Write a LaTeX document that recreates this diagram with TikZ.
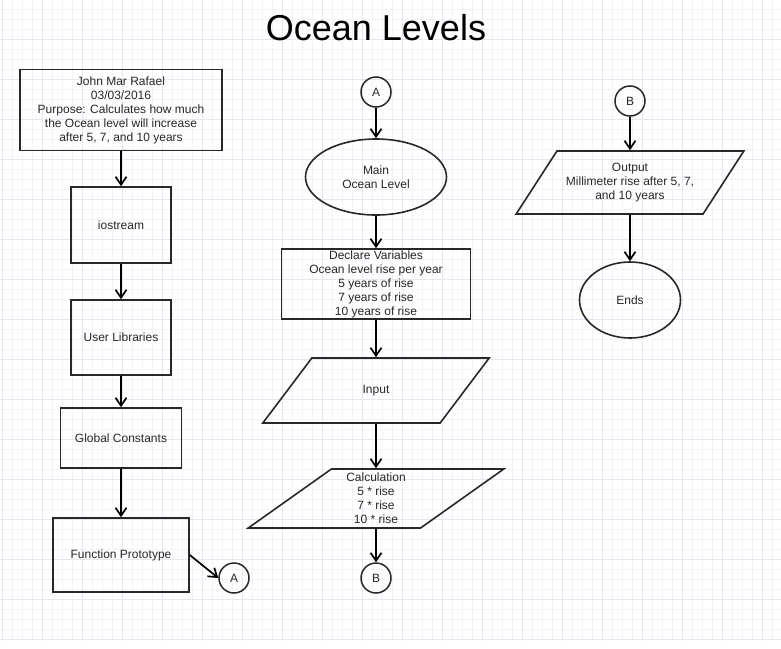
\documentclass[tikz,border=0pt]{standalone}
\usepackage{fontspec}
\setsansfont{Liberation Sans}
\usepackage{tikz}
\usetikzlibrary{arrows,arrows.meta,shapes}
\usetikzlibrary{calc}

\definecolor{gridlo}{RGB}{242,242,248}
\definecolor{gridhi}{RGB}{230,230,240}
\definecolor{ink}{RGB}{40,40,40}

\begin{document}
\begin{tikzpicture}[x=1pt,y=-1pt,font=\sffamily,
  every node/.style={align=center,font=\sffamily\fontsize{12}{14}\selectfont,text=ink},
  process/.style={draw=ink,line width=1.6pt,rectangle,inner sep=1pt},
  terminal/.style={draw=ink,line width=1.6pt,ellipse,inner sep=0pt},
  io/.style={draw=ink,line width=1.6pt,trapezium,trapezium stretches=true,inner sep=1pt},
  connector/.style={draw=ink,line width=1.5pt,circle,minimum size=30pt,inner sep=0pt},
  flow/.style={->,>={Straight Barb[length=8pt,width=11pt]},line width=1.7pt,draw=black},
  minorgrid/.style={draw=gridlo,line width=0.75pt},
  majorgrid/.style={draw=gridhi,line width=0.75pt}]

    % paper and grid
    \useasboundingbox (0,0) rectangle (781,648);
    \fill[white] (0,0) rectangle (781,648);
    \foreach \x in {2,12,...,772} \draw[minorgrid] (\x,0) -- (\x,641);
    \foreach \y in {9,19,...,639} \draw[minorgrid] (0,\y) -- (781,\y);
    \foreach \x in {2,42,...,762} \draw[majorgrid] (\x,0) -- (\x,641);
    \foreach \y in {39,79,...,639} \draw[majorgrid] (0,\y) -- (781,\y);

    \node[font=\sffamily\fontsize{36}{40}\selectfont,text=black](title) at (376,28){Ocean Levels};

    % left column
    \node[process,minimum width=202,minimum height=81](hdr) at (121,110)
        {John Mar Rafael\\03/03/2016\\Purpose: Calculates how much\\the Ocean level will increase\\after 5, 7, and 10 years};
    \node[process,minimum width=100,minimum height=76](iostr) at (121,225){iostream};
    \node[process,minimum width=100,minimum height=75](ulib) at (121,337.5){User Libraries};
    \node[process,minimum width=121,minimum height=60](gconst) at (121,438){Global Constants};
    \node[process,minimum width=136,minimum height=74](fproto) at (121,555){Function Prototype};
    \node[connector](conA1) at (234,578){A};

    % middle column
    \node[connector](conA2) at (376,92){A};
    \node[terminal,minimum width=141,minimum height=76](main) at (376,177){Main\\Ocean Level};
    \node[process,minimum width=189,minimum height=70](decl) at (376,284)
        {Declare Variables\\Ocean level rise per year\\5 years of rise\\7 years of rise\\10 years of rise};
    \node[io,minimum width=227,minimum height=65,
        trapezium left angle=49.3,trapezium right angle=130.7](input) at (376,390.5){Input};
    \node[io,minimum width=256,minimum height=59,
        trapezium left angle=42.7,trapezium right angle=137.3](calc) at (376,498.5)
        {Calculation\\5 * rise\\7 * rise\\10 * rise};
    \node[connector](conB1) at (376,578){B};

    % right column
    \node[connector](conB2) at (630,101){B};
    \node[io,minimum width=228,minimum height=63,
        trapezium left angle=48.4,trapezium right angle=131.6](output) at (630,182.5)
        {Output\\Millimeter rise after 5, 7,\\and 10 years};
    \node[terminal,minimum width=101,minimum height=76](ends) at (630,300){Ends};

    \draw[flow](hdr) -- (iostr);
    \draw[flow](iostr) -- (ulib);
    \draw[flow](ulib) -- (gconst);
    \draw[flow](gconst) -- (fproto);
    \draw[flow](fproto.east) -- (conA1.west);

    \draw[flow](conA2) -- (main);
    \draw[flow](main) -- (decl);
    \draw[flow](decl) -- (input);
    \draw[flow](input) -- (calc);
    \draw[flow](calc) -- (conB1);

    \draw[flow](conB2) -- (output);
    \draw[flow](output) -- (ends);
\end{tikzpicture}
\end{document}
